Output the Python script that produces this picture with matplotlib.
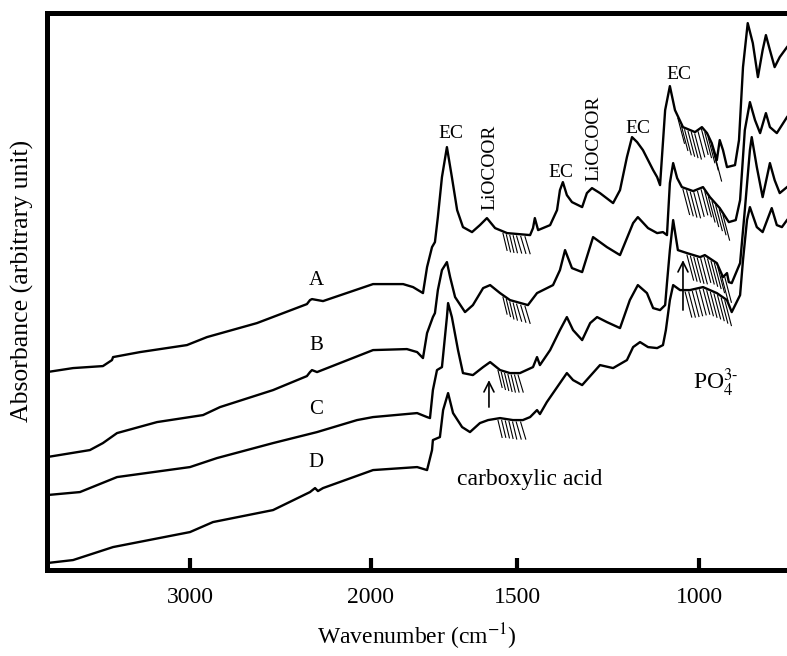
import matplotlib
matplotlib.use("Agg")
import matplotlib.pyplot as plt
import numpy as np

plt.rcParams['font.family'] = ['Liberation Serif', 'DejaVu Serif']
plt.rcParams['mathtext.fontset'] = 'stix'

# spectra: wavenumber (cm-1) and absorbance (arbitrary)
wn_A = [3790, 3646, 3481, 3431, 3425, 3276, 3017, 2906, 2630, 2354, 2337, 2326, 2265, 1993,
        1890, 1856, 1822, 1808, 1791, 1781, 1771, 1757, 1740, 1723, 1705, 1685, 1654, 1627,
        1603, 1575, 1534, 1464, 1456, 1451, 1442, 1409, 1390, 1382, 1374, 1363, 1349, 1321,
        1308, 1294, 1272, 1236, 1217, 1198, 1184, 1170, 1154, 1126, 1115, 1107, 1093, 1080,
        1066, 1044, 1011, 992, 978, 965, 951, 943, 934, 923, 901, 890, 879, 866, 852, 838,
        825, 816, 805, 792, 778, 758]
ab_A = [1.98, 2.02, 2.04, 2.10, 2.13, 2.18, 2.25, 2.33, 2.47, 2.66, 2.70, 2.71, 2.69, 2.86,
        2.86, 2.83, 2.77, 3.03, 3.23, 3.28, 3.53, 3.93, 4.23, 3.93, 3.60, 3.43, 3.38, 3.45,
        3.52, 3.42, 3.37, 3.35, 3.42, 3.52, 3.40, 3.45, 3.60, 3.80, 3.88, 3.75, 3.68, 3.63,
        3.77, 3.82, 3.77, 3.67, 3.80, 4.13, 4.33, 4.28, 4.20, 4.00, 3.93, 3.85, 4.60, 4.84,
        4.60, 4.43, 4.38, 4.43, 4.37, 4.27, 4.10, 4.30, 4.20, 4.03, 4.05, 4.30, 5.03, 5.47,
        5.27, 4.93, 5.20, 5.35, 5.20, 5.03, 5.13, 5.23]

wn_B = [3790, 3553, 3481, 3403, 3182, 2928, 2834, 2541, 2354, 2337, 2326, 2298, 1993, 1877,
        1842, 1822, 1808, 1788, 1781, 1771, 1757, 1740, 1729, 1712, 1678, 1651, 1616, 1592,
        1558, 1524, 1470, 1445, 1401, 1382, 1368, 1349, 1321, 1291, 1253, 1217, 1181, 1168,
        1140, 1115, 1099, 1088, 1080, 1071, 1060, 1047, 1016, 989, 970, 943, 918, 899, 887,
        874, 860, 846, 832, 816, 805, 786, 758]
ab_B = [1.13, 1.20, 1.27, 1.37, 1.48, 1.55, 1.63, 1.80, 1.94, 1.98, 2.00, 1.98, 2.20, 2.21,
        2.18, 2.12, 2.37, 2.53, 2.57, 2.80, 3.00, 3.08, 2.93, 2.73, 2.58, 2.65, 2.82, 2.85,
        2.77, 2.70, 2.65, 2.77, 2.85, 3.00, 3.20, 3.02, 2.98, 3.33, 3.23, 3.15, 3.47, 3.53,
        3.42, 3.37, 3.38, 3.35, 3.87, 4.07, 3.92, 3.83, 3.79, 3.83, 3.73, 3.62, 3.48, 3.50,
        3.70, 4.40, 4.68, 4.50, 4.37, 4.57, 4.43, 4.37, 4.53]

wn_C = [3790, 3608, 3403, 3000, 2851, 2541, 2298, 2077, 1993, 1842, 1808, 1798, 1788, 1774,
        1757, 1740, 1736, 1723, 1702, 1685, 1651, 1616, 1592, 1558, 1524, 1492, 1456, 1445,
        1437, 1409, 1382, 1363, 1346, 1321, 1299, 1280, 1253, 1217, 1190, 1168, 1143, 1126,
        1107, 1093, 1088, 1080, 1071, 1058, 1033, 997, 984, 951, 934, 923, 918, 910, 887,
        874, 860, 855, 841, 825, 805, 792, 778, 758]
ab_C = [0.75, 0.78, 0.93, 1.03, 1.12, 1.27, 1.38, 1.50, 1.53, 1.57, 1.53, 1.52, 1.80, 2.00,
        2.03, 2.53, 2.67, 2.53, 2.20, 1.97, 1.95, 2.03, 2.08, 2.00, 1.97, 1.97, 2.03, 2.13,
        2.05, 2.20, 2.40, 2.53, 2.40, 2.30, 2.47, 2.53, 2.48, 2.42, 2.70, 2.85, 2.77, 2.62,
        2.60, 2.65, 2.87, 3.20, 3.50, 3.20, 3.17, 3.13, 3.15, 3.07, 2.93, 2.97, 2.88, 2.87,
        3.07, 3.60, 4.20, 4.33, 4.03, 3.73, 4.07, 3.90, 3.77, 3.83]

wn_D = [3790, 3646, 3425, 3000, 2873, 2541, 2337, 2309, 2293, 2265, 1993, 1842, 1808, 1791,
        1788, 1764, 1753, 1736, 1719, 1688, 1661, 1627, 1599, 1558, 1514, 1484, 1464, 1445,
        1437, 1418, 1382, 1363, 1346, 1321, 1272, 1236, 1198, 1181, 1162, 1140, 1115, 1099,
        1091, 1080, 1071, 1052, 1025, 989, 951, 923, 910, 887, 879, 868, 860, 841, 825, 800,
        786, 772, 758]
ab_D = [0.07, 0.10, 0.23, 0.38, 0.48, 0.60, 0.78, 0.82, 0.79, 0.82, 1.00, 1.03, 1.00, 1.20,
        1.30, 1.33, 1.60, 1.77, 1.57, 1.43, 1.38, 1.47, 1.50, 1.52, 1.50, 1.50, 1.53, 1.60,
        1.56, 1.68, 1.87, 1.97, 1.90, 1.85, 2.05, 2.02, 2.10, 2.23, 2.28, 2.23, 2.22, 2.25,
        2.40, 2.70, 2.85, 2.80, 2.80, 2.83, 2.77, 2.70, 2.58, 2.75, 3.10, 3.50, 3.63, 3.43,
        3.38, 3.62, 3.45, 3.43, 3.50]

curve_names = ["A", "B", "C", "D"]
name_pos = [(2304, 2.90), (2304, 2.25), (2304, 1.61), (2304, 1.08)]

# hatched bands (wavenumber ranges) under each spectrum
hatch_carbox = [(1548, 1478), (1548, 1478), (1565, 1497), (1565, 1490)]
hatch_po4 = [(1058, 956), (1044, 934), (1033, 929), (1038, 929)]

peak_labels = ["EC", "LiOCOOR", "EC", "LiOCOOR", "EC", "EC"]
peak_pos = [(1726, 4.37), (1592, 4.03), (1379, 3.98), (1288, 4.32), (1168, 4.42), (1055, 4.96)]
peak_rot = [0, 90, 0, 90, 0, 0]

# the x axis of the original is stretched piecewise
scale_wn = [758, 1000, 1500, 2000, 3000, 3790]
scale_u = [0, 88, 270, 416, 597, 740]


def fwd(w):
    return np.interp(w, scale_wn, scale_u)


def inv(u):
    return np.interp(u, scale_u, scale_wn)


def hatch(ax, wn, ab, w1, w2, n, drop, shift):
    for w in np.linspace(w1, w2, n):
        top = np.interp(w, wn[::-1], ab[::-1]) - 0.02
        ax.plot([w, w - shift], [top, top - drop], color='black', lw=0.8)


fig = plt.figure(figsize=(7.87, 6.56), dpi=100)
ax = fig.add_axes([0.0597, 0.131, 0.9403, 0.849])
ax.set_xscale('function', functions=(fwd, inv))

spectra = [(wn_A, ab_A), (wn_B, ab_B), (wn_C, ab_C), (wn_D, ab_D)]
for (wn, ab), name, pos in zip(spectra, curve_names, name_pos):
    ax.plot(wn, ab, color='black', lw=1.7)
    ax.text(pos[0], pos[1], name, fontsize=15, ha='center', va='center')

for (wn, ab), (w1, w2) in zip(spectra, hatch_carbox):
    hatch(ax, np.array(wn), np.array(ab), w1, w2, 7, 0.17, 14)
for (wn, ab), (w1, w2) in zip(spectra, hatch_po4):
    hatch(ax, np.array(wn), np.array(ab), w1, w2, 12, 0.25, 18)

for lab, (x, y), r in zip(peak_labels, peak_pos, peak_rot):
    ax.text(x, y, lab, fontsize=14, ha='center', va='center', rotation=r)

ax.text(1464, 0.91, "carboxylic acid", fontsize=17, ha='center', va='center')
ax.text(1016, 1.87, r"PO$_4^{3\text{-}}$", fontsize=17, ha='left', va='center')

arrow = dict(arrowstyle='->', lw=1.2, mutation_scale=18, shrinkA=0, shrinkB=0)
ax.annotate('', xy=(1596, 1.90), xytext=(1596, 1.63), arrowprops=arrow)
ax.annotate('', xy=(1044, 3.10), xytext=(1044, 2.60), arrowprops=arrow)

ax.set_xlim(3790, 758)
ax.set_ylim(0, 5.57)
ax.set_xticks([3000, 2000, 1500, 1000])
ax.set_xticklabels(["3000", "2000", "1500", "1000"])
ax.set_yticks([])
ax.tick_params(axis='x', direction='in', length=8.5, width=3, labelsize=17, pad=12)
for s in ['left', 'bottom', 'top']:
    ax.spines[s].set_linewidth(3.6)
ax.spines['right'].set_visible(False)

ax.set_xlabel(r"Wavenumber (cm$^{-1}$)", fontsize=17, labelpad=10)
ax.set_ylabel("Absorbance (arbitrary unit)", fontsize=18.5)
ax.yaxis.set_label_coords(-0.017, 0.52)

fig.savefig("out.png", dpi=100)
